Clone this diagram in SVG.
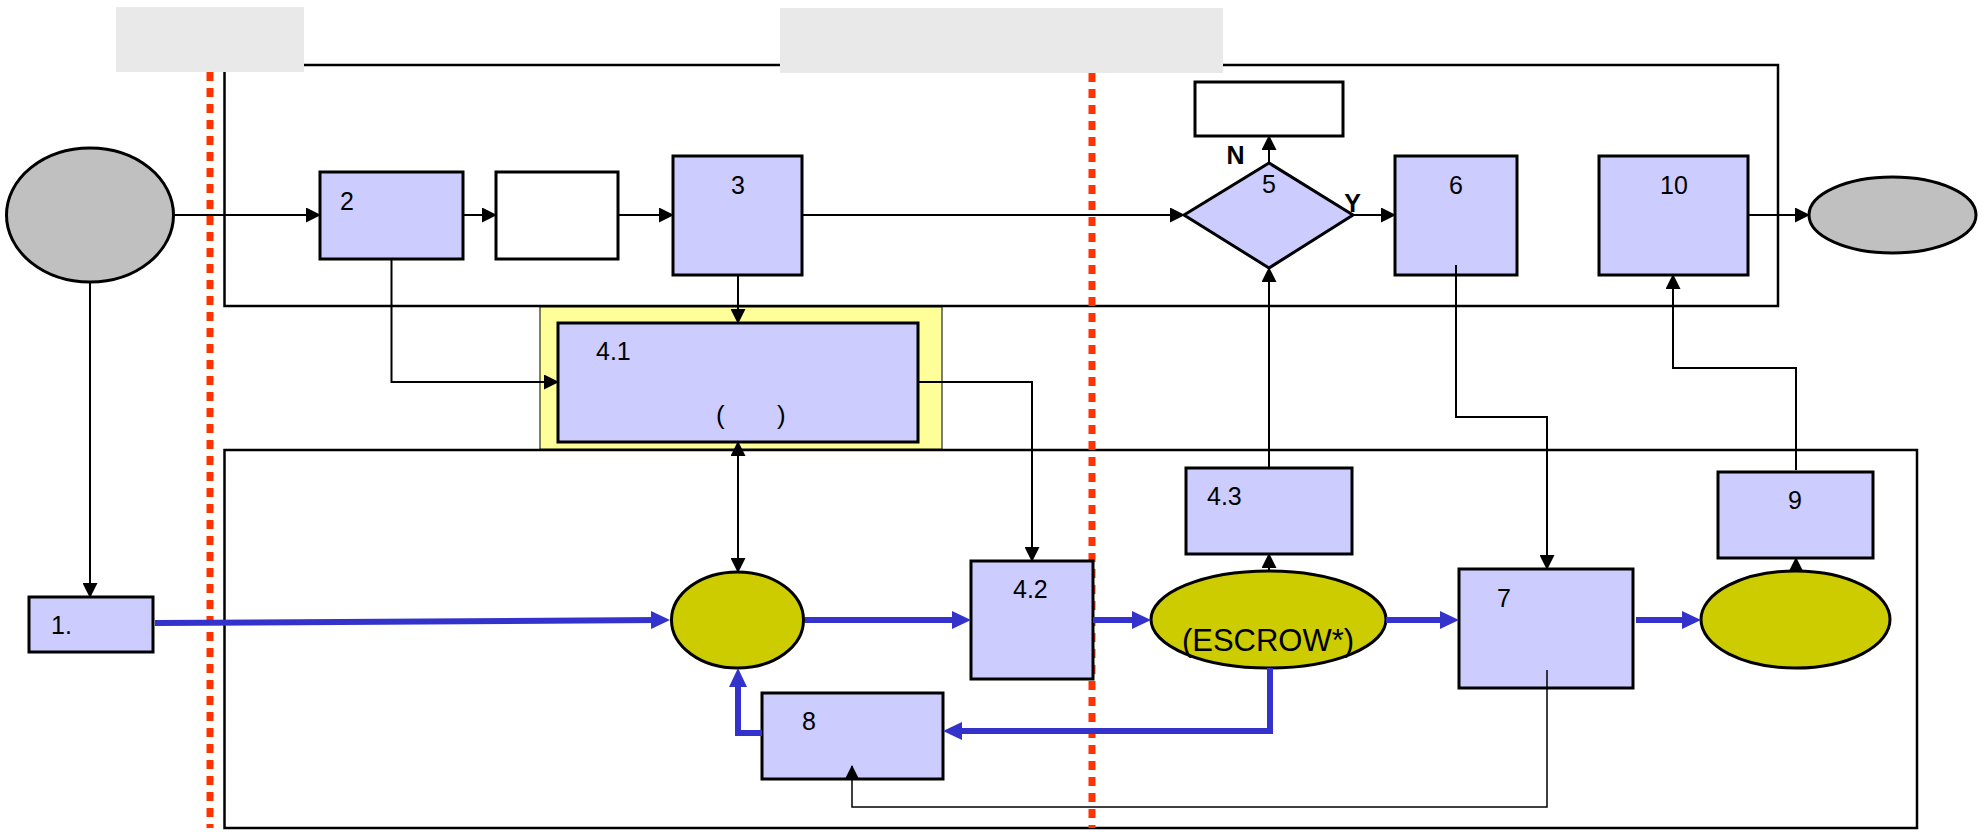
<svg xmlns="http://www.w3.org/2000/svg" width="1988" height="834" viewBox="0 0 1988 834">
<style>
.box{fill:#ccccff;stroke:#000;stroke-width:3}
.wbox{fill:#fff;stroke:#000;stroke-width:3}
.ell{fill:#cccc00;stroke:#000;stroke-width:3}
.gray{fill:#c0c0c0;stroke:#000;stroke-width:3}
.lane{fill:none;stroke:#000;stroke-width:2.5}
.lbl{fill:#e9e9e9;stroke:none}
.red{stroke:#ff3300;stroke-width:7;stroke-dasharray:9 7;fill:none}
.c{fill:none;stroke:#000;stroke-width:2}
.b{fill:none;stroke:#3333cc;stroke-width:6}
text{font-family:"Liberation Sans",Arial,sans-serif;font-size:25px;fill:#000}
.bold{font-weight:bold;font-size:25px}
</style>
<defs>
<marker id="ah" markerWidth="15" markerHeight="15" refX="14" refY="7.5" orient="auto" markerUnits="userSpaceOnUse"><path d="M0,0 L15,7.5 L0,15 z" fill="#000"/></marker>
<marker id="ahs" markerWidth="15" markerHeight="15" refX="14" refY="7.5" orient="auto-start-reverse" markerUnits="userSpaceOnUse"><path d="M0,0 L15,7.5 L0,15 z" fill="#000"/></marker>
<marker id="bh" markerWidth="19" markerHeight="18" refX="8" refY="9" orient="auto" markerUnits="userSpaceOnUse"><path d="M0,0 L19,9 L0,18 z" fill="#3333cc"/></marker>
</defs>

<g id="lanes">
<rect class="lane" x="224.5" y="65" width="1553.5" height="241"/>
<rect class="lane" x="224.5" y="450" width="1692.5" height="378"/>
</g>

<g id="dividers">
<line class="red" x1="210" y1="72" x2="210" y2="828"/>
<line class="red" x1="1092" y1="73" x2="1092" y2="828"/>
</g>

<g id="n41">
<rect x="540" y="307" width="402" height="142" fill="#ffff99" stroke="#000" stroke-width="1"/>
<rect class="box" x="558" y="323" width="360" height="119"/>
<text x="596" y="360">4.1</text>
<text x="716" y="424" style="font-size:26px">(</text>
<text x="777" y="424" style="font-size:26px">)</text>
</g>

<g id="start"><ellipse class="gray" cx="90" cy="215" rx="83.5" ry="67"/></g>
<g id="end"><ellipse class="gray" cx="1892.5" cy="215" rx="83.5" ry="38"/></g>
<g id="n2"><rect class="box" x="320" y="172" width="143" height="87"/><text x="340" y="210">2</text></g>
<g id="nwhite"><rect class="wbox" x="496" y="172" width="122" height="87"/></g>
<g id="n3"><rect class="box" x="673" y="156" width="129" height="119"/><text x="738" y="194" text-anchor="middle">3</text></g>
<g id="ntop"><rect class="wbox" x="1195" y="82" width="148" height="54"/></g>
<g id="n5"><polygon class="box" points="1184,215 1269,163 1353,215 1269,268"/><text x="1269" y="193" text-anchor="middle">5</text></g>
<g id="n6"><rect class="box" x="1395" y="156" width="122" height="119"/><text x="1456" y="194" text-anchor="middle">6</text></g>
<g id="n10"><rect class="box" x="1599" y="156" width="149" height="119"/><text x="1674" y="194" text-anchor="middle">10</text></g>
<g id="n1"><rect class="box" x="29" y="597" width="124" height="55"/><text x="51" y="634">1.</text></g>
<g id="nA"><ellipse class="ell" cx="737.5" cy="620" rx="66" ry="48"/></g>
<g id="n42"><rect class="box" x="971" y="561" width="122" height="118"/><text x="1013" y="598">4.2</text></g>
<g id="n43"><rect class="box" x="1186" y="468" width="166" height="86"/><text x="1207" y="505">4.3</text></g>
<g id="nescrow"><ellipse class="ell" cx="1268.5" cy="619.5" rx="117.5" ry="48.5"/><text x="1268" y="651" text-anchor="middle" style="font-size:31px">(ESCROW*)</text></g>
<g id="n7"><rect class="box" x="1459" y="569" width="174" height="119"/><text x="1497" y="607">7</text></g>
<g id="nC"><ellipse class="ell" cx="1795.5" cy="619.5" rx="94.5" ry="48.5"/></g>
<g id="n8"><rect class="box" x="762" y="693" width="181" height="86"/><text x="802" y="730">8</text></g>
<g id="n9"><rect class="box" x="1718" y="472" width="155" height="86"/><text x="1795" y="509" text-anchor="middle">9</text></g>

<g id="connectors">
<path class="c" marker-end="url(#ah)" d="M174,215 H320"/>
<path class="c" marker-end="url(#ah)" d="M463,215 H496"/>
<path class="c" marker-end="url(#ah)" d="M618,215 H673"/>
<path class="c" marker-end="url(#ah)" d="M802,215 H1184"/>
<path class="c" marker-end="url(#ah)" d="M1353,215 H1395"/>
<path class="c" marker-end="url(#ah)" d="M1748,215 H1809"/>
<path class="c" marker-end="url(#ah)" d="M1269,163 V136"/>
<path class="c" marker-end="url(#ah)" d="M90,282 V597"/>
<path class="c" marker-end="url(#ah)" d="M391.5,259 V382 H558"/>
<path class="c" marker-end="url(#ah)" d="M738,275 V323"/>
<path class="c" marker-start="url(#ahs)" marker-end="url(#ah)" d="M738,442 V572"/>
<path class="c" marker-end="url(#ah)" d="M918,382 H1032 V561"/>
<path class="c" marker-end="url(#ah)" d="M1269,468 V268"/>
<path class="c" marker-end="url(#ah)" d="M1269,571 V554"/>
<path class="c" marker-end="url(#ah)" d="M1456,265 V417 H1547 V569"/>
<path class="c" marker-end="url(#ah)" d="M1796,470 V368 H1673 V275"/>
<path class="c" marker-end="url(#ah)" d="M1796,571 V558"/>
<path class="c" style="stroke-width:1.5" marker-end="url(#ah)" d="M1547,670 V807 H852 V766"/>
<g id="blue">
<path class="b" marker-end="url(#bh)" d="M155,623 L659,620"/>
<path class="b" marker-end="url(#bh)" d="M805,620 H960"/>
<path class="b" marker-end="url(#bh)" d="M1093,620 H1140"/>
<path class="b" marker-end="url(#bh)" d="M1386,620 H1448"/>
<path class="b" marker-end="url(#bh)" d="M1636,620 H1690"/>
<path class="b" marker-end="url(#bh)" d="M1270,668 V731 H954"/>
<path class="b" marker-end="url(#bh)" d="M762,733 H738 V679"/>
</g>
<text class="bold" x="1235.5" y="164" text-anchor="middle">N</text>
<text class="bold" x="1352.5" y="212" text-anchor="middle">Y</text>
</g>

<g id="labels">
<rect class="lbl" x="116" y="7" width="188" height="65"/>
<rect class="lbl" x="780" y="8" width="443" height="65"/>
</g>
</svg>
